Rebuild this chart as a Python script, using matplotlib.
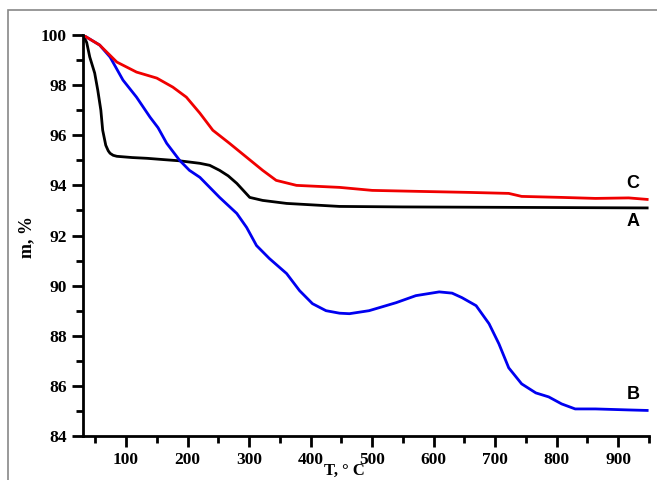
import matplotlib
matplotlib.use("Agg")
import matplotlib.pyplot as plt
from matplotlib.patches import Rectangle
from matplotlib.ticker import MultipleLocator

# curve A (black)
t_a = [30, 36, 41, 49, 54, 59, 62, 67, 71, 74, 79, 85, 110, 134, 160, 187, 220, 236, 252, 266, 280, 301, 322, 361, 447, 550, 650, 750, 850, 947]
m_a = [100, 99.7, 99.12, 98.48, 97.8, 97.0, 96.2, 95.6, 95.38, 95.28, 95.2, 95.16, 95.11, 95.08, 95.03, 94.98, 94.88, 94.8, 94.6, 94.38, 94.08, 93.52, 93.4, 93.28, 93.16, 93.14, 93.13, 93.12, 93.11, 93.1]

# curve B (blue)
t_b = [30, 57, 74, 95, 117, 139, 152, 166, 187, 203, 220, 252, 280, 296, 312, 333, 361, 382, 403, 425, 447, 463, 495, 539, 571, 609, 630, 646, 669, 690, 706, 722, 743, 766, 787, 808, 830, 863, 917, 947]
m_b = [100, 99.6, 99.12, 98.2, 97.52, 96.72, 96.3, 95.68, 95.0, 94.6, 94.32, 93.52, 92.88, 92.32, 91.6, 91.08, 90.48, 89.8, 89.28, 89.0, 88.9, 88.88, 89.0, 89.32, 89.6, 89.75, 89.7, 89.52, 89.2, 88.48, 87.68, 86.72, 86.08, 85.72, 85.56, 85.28, 85.08, 85.08, 85.04, 85.02]

# curve C (red)
t_c = [30, 57, 85, 117, 150, 176, 198, 220, 241, 268, 296, 322, 344, 377, 447, 500, 576, 657, 722, 743, 808, 863, 917, 947]
m_c = [100, 99.6, 98.92, 98.52, 98.28, 97.92, 97.52, 96.88, 96.2, 95.68, 95.12, 94.6, 94.2, 94.0, 93.92, 93.8, 93.76, 93.72, 93.68, 93.56, 93.52, 93.48, 93.5, 93.44]

fig = plt.figure(figsize=(6.57, 4.80), dpi=100)
fig.patches.append(Rectangle((8/657, -0.1), 1.2, 1 - 10/480 + 0.1, transform=fig.transFigure,
                             fill=False, edgecolor='#888888', lw=1.2))
ax = fig.add_axes([83/657, 1 - 436/480, (649 - 83)/657, (436 - 35)/480])

ax.plot(t_a, m_a, color='black', lw=2)
ax.plot(t_b, m_b, color='#0000f0', lw=2)
ax.plot(t_c, m_c, color='#f00000', lw=2)

ax.set_xlim(30, 950)
ax.set_ylim(84, 100)
ax.spines['top'].set_visible(False)
ax.spines['right'].set_visible(False)
ax.spines['left'].set_linewidth(2)
ax.spines['bottom'].set_linewidth(2)
ax.xaxis.set_minor_locator(MultipleLocator(50))
ax.yaxis.set_major_locator(MultipleLocator(2))
ax.yaxis.set_minor_locator(MultipleLocator(1))
ax.set_xticks(range(100, 1000, 100))
ax.tick_params(which='major', direction='out', length=8, width=2)
ax.tick_params(which='minor', direction='out', length=5, width=2)
for lab in ax.get_xticklabels() + ax.get_yticklabels():
    lab.set_fontfamily('Liberation Serif')
    lab.set_fontweight('bold')
    lab.set_fontsize(12.5)

fig.text(344/657, 1 - 471/480, "T, ° C", family='Liberation Serif', weight='bold',
         fontsize=12, ha='center', va='center')
fig.text(27/657, 1 - 237/480, "m, %", family='Liberation Serif', weight='bold',
         fontsize=13, ha='center', va='center', rotation=90)

ax.text(924, 93.75, "C", family='Liberation Sans', weight='bold', fontsize=13, ha='center', va='bottom')
ax.text(924, 92.9, "A", family='Liberation Sans', weight='bold', fontsize=13, ha='center', va='top')
ax.text(924, 85.3, "B", family='Liberation Sans', weight='bold', fontsize=13, ha='center', va='bottom')

fig.savefig("out.png", dpi=100)
